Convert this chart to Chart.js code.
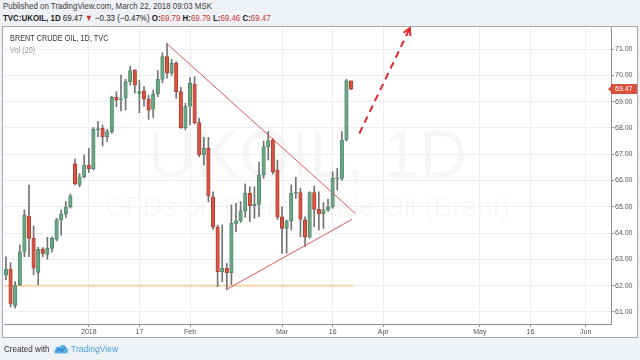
<!DOCTYPE html>
<html>
<head>
<meta charset="utf-8">
<title>UKOIL 1D</title>
<script src="https://cdn.jsdelivr.net/npm/chart.js@4.4.1/dist/chart.umd.min.js"></script>
<style>
  html, body { margin: 0; padding: 0; }
  body {
    width: 640px; height: 360px; position: relative; overflow: hidden;
    background: #eef1f6;
    font-family: "Liberation Sans", Arial, sans-serif;
  }
  .hdr {
    position: absolute; left: 3px; font-size: 9px; line-height: 11px;
    white-space: nowrap; transform-origin: 0 50%; transform: scaleX(0.88);
  }
  #hdr1 { top: 1px; color: #3c3c3c; }
  #hdr2 { top: 13px; color: #222; }
  .red { color: #c8372d; }
  #frame {
    position: absolute; left: 2px; top: 26px; width: 634px; height: 310px;
    border: 1px solid #a5a8ad; background: #fff;
  }
  .wm {
    position: absolute; left: 4px; width: 607px; text-align: center;
    color: rgba(20, 30, 50, 0.04); white-space: nowrap;
  }
  #wm1 { top: 121px; font-size: 66px; line-height: 66px; }
  #wm2 { top: 193px; font-size: 28px; line-height: 28px; }
  #chart { position: absolute; left: 0; top: 0; }
  .lbl {
    position: absolute; left: 10px; white-space: nowrap;
    transform-origin: 0 50%; transform: scaleX(0.86);
  }
  #legend { top: 33px; font-size: 8.5px; line-height: 10px; color: #333; }
  #vol { top: 45px; font-size: 8.5px; line-height: 10px; color: #9a9a9a; }
  #foot {
    position: absolute; left: 4px; top: 343px; font-size: 9px; line-height: 12px;
    color: #333; white-space: nowrap; transform-origin: 0 50%; transform: scaleX(0.9);
  }
  #foot svg { vertical-align: -2px; margin: 0 3px 0 4px; }
  #foot .tv { color: #4a9fd8; font-size: 9.5px; }
</style>
</head>
<body>
<div id="hdr1" class="hdr">Published on TradingView.com, March 22, 2018 09:03 MSK</div>
<div id="hdr2" class="hdr"><b>TVC:UKOIL, 1D</b> 69.47 <span class="red">&#9660;</span> &minus;0.33 (&minus;0.47%) <b>O:</b><span class="red">69.79</span> <b>H:</b><span class="red">69.79</span> <b>L:</b><span class="red">69.46</span> <b>C:</b><span class="red">69.47</span></div>
<div id="frame"></div>
<div id="wm1" class="wm">UKOIL, 1D</div>
<div id="wm2" class="wm">CFDs on Brent Crude Oil (Brent)</div>
<canvas id="chart" width="640" height="360"></canvas>
<div id="legend" class="lbl">BRENT CRUDE OIL, 1D, TVC</div>
<div id="vol" class="lbl">Vol (20)</div>
<div id="foot">Created with<svg width="17" height="11" viewBox="0 0 17 11"><path d="M3 10.5 C0.5 10.5 0 7.5 2.2 6.8 C2 3.5 5.5 2.5 7 4.2 C8 1 13 0.5 13.8 4.5 C16.8 4.8 17 10.5 13.5 10.5 Z" fill="#5cb2e8"/><path d="M3.5 8.5 L6.5 6 L9 8 L13 4.5" stroke="#2f7fbf" stroke-width="1.4" fill="none"/></svg><span class="tv">TradingView</span></div>

<script>
// daily candles, one per trading day (index 0 = first bar on the left, 75 = Mar 22)
const opens = [
  62.40, 62.62, 61.25, 62.03, 63.30, 64.65, 63.80, 62.50, 63.38, 63.19,
  63.42, 63.76, 64.50, 64.73, 65.00, 66.63, 65.83, 66.14, 66.58, 66.45,
  67.93, 67.98, 67.67, 67.86, 69.16, 69.07, 69.13, 69.76, 70.20, 69.29,
  69.41, 69.09, 68.71, 69.29, 69.85, 70.71, 70.08, 70.46, 69.38, 68.01,
  68.83, 69.67, 68.20, 66.97, 67.22, 65.38, 64.22, 62.53, 62.66, 62.49,
  64.37, 64.47, 64.85, 65.51, 65.04, 65.09, 66.21, 67.29, 67.54, 66.40,
  64.62, 64.18, 64.47, 65.52, 65.54, 64.50, 63.84, 65.54, 64.90, 64.73,
  64.88, 65.00, 66.06, 66.08, 67.54, 69.79
];
const highs = [
  63.10, 62.87, 62.15, 63.55, 64.88, 65.83, 64.27, 63.46, 63.45, 63.84,
  63.86, 64.56, 64.88, 65.20, 65.48, 66.81, 66.27, 66.97, 67.22, 68.02,
  68.24, 68.11, 67.95, 69.21, 69.38, 70.01, 69.85, 70.35, 70.22, 69.82,
  69.57, 69.25, 69.44, 70.18, 70.86, 71.22, 70.61, 70.52, 69.55, 68.94,
  69.92, 69.95, 68.37, 67.64, 67.64, 65.57, 64.31, 64.31, 62.85, 65.07,
  65.13, 65.20, 65.87, 65.76, 65.76, 66.71, 67.50, 67.86, 67.60, 66.78,
  65.00, 64.50, 65.83, 66.12, 65.70, 64.62, 65.57, 65.79, 65.57, 65.16,
  65.29, 66.33, 66.46, 67.86, 69.85, 69.79
];
const lows = [
  62.22, 61.20, 61.15, 62.00, 63.10, 63.10, 62.41, 62.03, 63.10, 63.00,
  63.27, 63.70, 63.92, 64.60, 64.95, 65.82, 65.76, 66.10, 66.30, 66.40,
  67.67, 67.31, 67.48, 67.80, 68.81, 68.65, 68.68, 69.63, 69.32, 68.58,
  68.83, 68.33, 68.40, 69.19, 69.72, 69.89, 70.00, 69.13, 67.98, 67.92,
  68.11, 68.15, 66.90, 66.59, 65.19, 64.14, 61.96, 62.15, 61.84, 62.03,
  64.05, 64.40, 64.60, 64.43, 64.56, 64.62, 66.08, 66.78, 66.25, 64.52,
  63.23, 63.23, 64.12, 65.32, 63.86, 63.48, 63.80, 64.24, 64.12, 64.18,
  64.82, 64.94, 65.64, 66.00, 67.50, 69.46
];
const closes = [
  62.62, 61.30, 62.00, 63.29, 64.69, 63.80, 62.66, 63.38, 63.23, 63.42,
  63.80, 64.50, 64.73, 65.00, 65.42, 65.87, 66.14, 66.59, 66.45, 67.95,
  67.97, 67.67, 67.86, 69.16, 69.06, 69.10, 69.76, 70.18, 69.63, 69.38,
  69.09, 68.68, 69.29, 69.85, 70.71, 70.08, 70.46, 69.38, 68.01, 68.83,
  69.70, 68.20, 66.97, 67.22, 65.41, 64.22, 62.53, 62.66, 62.49, 64.37,
  64.47, 64.85, 65.51, 65.03, 65.09, 66.21, 67.29, 67.51, 66.33, 64.60,
  64.18, 64.47, 65.51, 65.56, 64.53, 63.84, 65.54, 64.90, 64.73, 64.88,
  65.00, 66.08, 66.10, 67.54, 69.80, 69.47
];

// time axis: bar index of each label and its text
const xTickIdx = [18, 29, 40, 60, 71, 82, 103, 114, 126];
const xTickLabels = ['2018', '17', 'Feb', 'Mar', '16', 'Apr', 'May', '16', 'Jun'];
const yTickValues = [61, 62, 63, 64, 65, 66, 67, 68, 69, 70, 71];

// drawings, in (bar index, price)
const upperTrend = [{ x: 34.9, y: 71.22 }, { x: 75.9, y: 64.75 }];
const lowerTrend = [{ x: 48.0, y: 61.86 }, { x: 75.2, y: 64.52 }];
const supportLine = [{ x: -0.5, y: 62.0 }, { x: 75.5, y: 62.0 }];
const arrowPath = [{ x: 76.8, y: 67.79 }, { x: 87.8, y: 71.80 }];
const lastPrice = 69.47;

const UP = '#6ba583', UP_EDGE = '#4b8464';
const DOWN = '#d75442', DOWN_EDGE = '#a8382a';
const WICK = '#737375';

const isUp = i => closes[i] >= opens[i];

const wickData = highs.map((h, i) => ({ x: i, y: [lows[i], h] }));
const bodyData = opens.map((o, i) => ({ x: i, y: [o, closes[i]] }));

const arrowHead = {
  id: 'arrowHead',
  afterDatasetsDraw(chart) {
    const { ctx, chartArea, scales } = chart;
    const x0 = scales.x.getPixelForValue(arrowPath[0].x), y0 = scales.y.getPixelForValue(arrowPath[0].y);
    const x1 = scales.x.getPixelForValue(arrowPath[1].x), y1 = scales.y.getPixelForValue(arrowPath[1].y);
    const a = Math.atan2(y1 - y0, x1 - x0);
    const len = 8;
    ctx.save();
    ctx.beginPath();
    ctx.rect(chartArea.left, chartArea.top, chartArea.right - chartArea.left, chartArea.bottom - chartArea.top);
    ctx.clip();
    ctx.strokeStyle = '#e3262b';
    ctx.lineWidth = 2;
    ctx.beginPath();
    ctx.moveTo(x1 - len * Math.cos(a - 0.5), y1 - len * Math.sin(a - 0.5));
    ctx.lineTo(x1, y1);
    ctx.lineTo(x1 - len * Math.cos(a + 0.5), y1 - len * Math.sin(a + 0.5));
    ctx.stroke();
    ctx.restore();
  }
};

// red last-price tag on the price axis
const priceTag = {
  id: 'priceTag',
  afterDraw(chart) {
    const { ctx, chartArea, scales } = chart;
    const y = Math.round(scales.y.getPixelForValue(lastPrice));
    const x = chartArea.right;
    ctx.save();
    ctx.fillStyle = '#d9503f';
    ctx.fillRect(x, y - 5, 26, 10);
    ctx.beginPath();
    ctx.moveTo(x - 3, y);
    ctx.lineTo(x, y - 3);
    ctx.lineTo(x, y + 3);
    ctx.fill();
    ctx.fillStyle = '#fff';
    ctx.font = '7px "Liberation Sans", Arial, sans-serif';
    ctx.textBaseline = 'middle';
    ctx.fillText(lastPrice.toFixed(2), x + 4, y + 0.5);
    ctx.restore();
  }
};

Chart.defaults.font.family = "'Liberation Sans', Arial, sans-serif";

new Chart(document.getElementById('chart'), {
  type: 'bar',
  data: {
    datasets: [
      {
        label: 'wick', data: wickData, order: 3, grouped: false,
        barThickness: 1, backgroundColor: WICK, borderWidth: 0
      },
      {
        label: 'body', data: bodyData, order: 2, grouped: false,
        barThickness: 3.5, minBarLength: 1, borderSkipped: false, borderWidth: 0.8,
        backgroundColor: c => isUp(c.dataIndex) ? UP : DOWN,
        borderColor: c => isUp(c.dataIndex) ? UP_EDGE : DOWN_EDGE
      },
      {
        type: 'line', label: 'support', data: supportLine, order: 4,
        borderColor: 'rgba(245, 195, 110, 0.6)', borderWidth: 2, pointRadius: 0
      },
      {
        type: 'line', label: 'upper', data: upperTrend, order: 1,
        borderColor: '#e4545a', borderWidth: 1, pointRadius: 0
      },
      {
        type: 'line', label: 'lower', data: lowerTrend, order: 1,
        borderColor: '#e4545a', borderWidth: 1, pointRadius: 0
      },
      {
        type: 'line', label: 'arrow', data: arrowPath, order: 1,
        borderColor: '#e3262b', borderWidth: 2, borderDash: [7, 5], pointRadius: 0
      }
    ]
  },
  options: {
    responsive: false,
    devicePixelRatio: 1,
    animation: false,
    layout: { padding: { left: 4, top: 27, right: 3, bottom: 23 } },
    plugins: { legend: { display: false }, tooltip: { enabled: false } },
    scales: {
      x: {
        type: 'linear', min: -0.43, max: 131.5, offset: false,
        afterBuildTicks: s => { s.ticks = xTickIdx.map(v => ({ value: v })); },
        afterFit: s => { s.height = 13; },
        ticks: {
          autoSkip: false, maxRotation: 0, padding: 1, color: '#555',
          font: { size: 7 },
          callback: v => xTickLabels[xTickIdx.indexOf(v)]
        },
        grid: { offset: false, color: '#eceff2', tickLength: 3, tickColor: '#8d9096' },
        border: { color: '#8d9096' }
      },
      y: {
        position: 'right', min: 60.54, max: 71.84,
        afterBuildTicks: s => { s.ticks = yTickValues.map(v => ({ value: v })); },
        afterFit: s => { s.width = 26; },
        ticks: {
          padding: 1, color: '#555', font: { size: 7 },
          callback: v => v.toFixed(2)
        },
        grid: { color: '#eceff2', tickLength: 3, tickColor: '#8d9096' },
        border: { color: '#8d9096' }
      }
    }
  },
  plugins: [arrowHead, priceTag]
});
</script>
</body>
</html>
